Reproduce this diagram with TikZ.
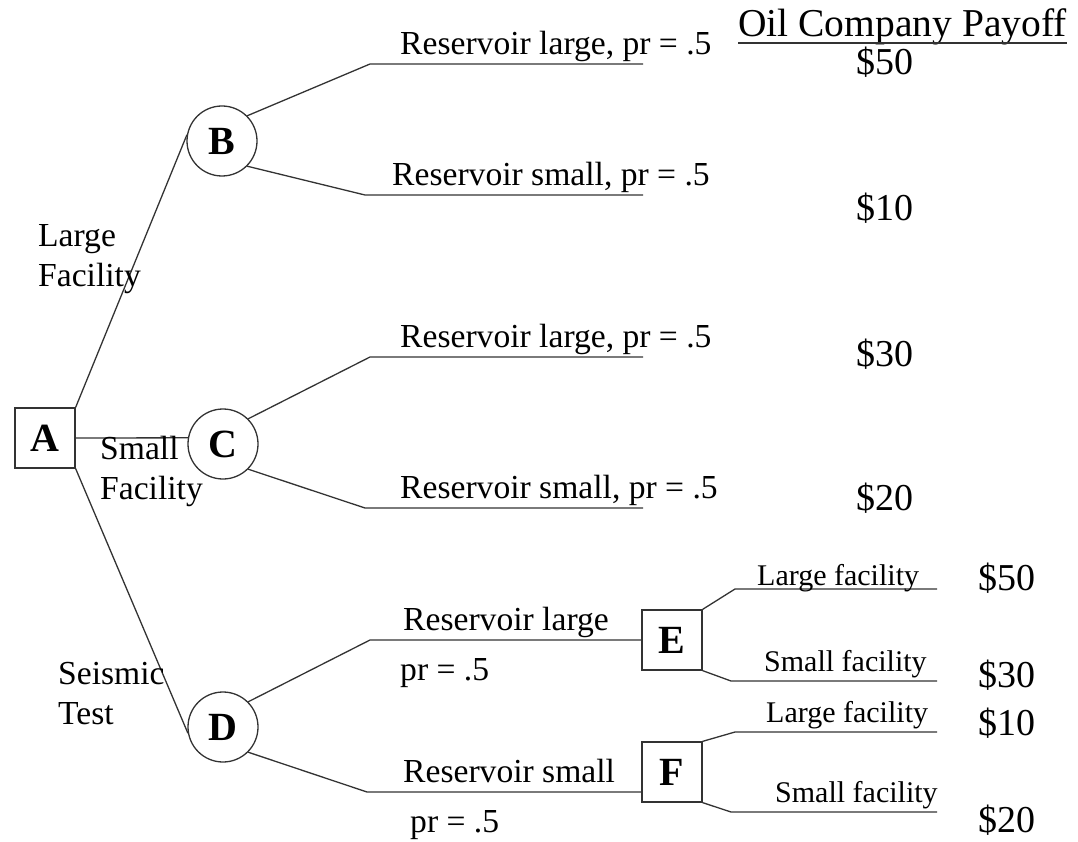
\documentclass[tikz,border=0pt]{standalone}
\usepackage{fontspec}
\setmainfont{Liberation Serif}
\usetikzlibrary{positioning}

\newcommand{\nodefont}{\fontsize{40}{46}\selectfont\bfseries}
\newcommand{\lblfont}{\fontsize{33.6}{40}\selectfont}
\newcommand{\subfont}{\fontsize{30}{35}\selectfont}
\newcommand{\payfont}{\fontsize{38}{44}\selectfont}

\begin{document}
\begin{tikzpicture}[
  x=1pt, y=-1pt,
  % Decision nodes (squares)
  decision/.style={rectangle, draw=black!80, line width=1.3pt,
                   minimum size=60pt, inner sep=0pt, font=\nodefont},
  % Chance nodes (circles)
  chance/.style={circle, draw=black!80, line width=1.3pt,
                 minimum size=70pt, inner sep=0pt, font=\nodefont},
  branch/.style={draw=black!80, line width=1.3pt},
  lbl/.style={anchor=base west, inner sep=0pt, font=\lblfont, align=left},
  sublbl/.style={anchor=base west, inner sep=0pt, font=\subfont},
  pay/.style={anchor=base, inner sep=0pt, font=\payfont},
  payr/.style={anchor=base west, inner sep=0pt, font=\payfont}
]
\useasboundingbox (0,0) rectangle (1078,842);

%% ── Decision and chance nodes ───────────────────────────────
\node[decision] (A) at (45,438)  {A};
\node[chance]   (B) at (222,141) {B};
\node[chance]   (C) at (223,444) {C};
\node[chance]   (D) at (223,727) {D};
\node[decision] (E) at (672,640) {E};
\node[decision] (F) at (672,772) {F};

%% ── Bend points of the branches ─────────────────────────────
\coordinate (b1) at (370,64);  \coordinate (b1e) at (643,64);
\coordinate (b2) at (365,195); \coordinate (b2e) at (643,195);
\coordinate (c1) at (370,357); \coordinate (c1e) at (643,357);
\coordinate (c2) at (365,508); \coordinate (c2e) at (643,508);
\coordinate (d1) at (370,640);
\coordinate (d2) at (367,792);
\coordinate (e1) at (735,589); \coordinate (e1e) at (937,589);
\coordinate (e2) at (731,681); \coordinate (e2e) at (937,681);
\coordinate (f1) at (735,732); \coordinate (f1e) at (937,732);
\coordinate (f2) at (731,812); \coordinate (f2e) at (937,812);

%% ── Branches from A ─────────────────────────────────────────
\draw[branch] (A.north east) -- (B.170);
\draw[branch] (A.east)       -- (C.170);
\draw[branch] (A.south east) -- (D.190);

%% ── Chance branches ─────────────────────────────────────────
\draw[branch] (B.45)  -- (b1) -- (b1e);
\draw[branch] (B.-45) -- (b2) -- (b2e);
\draw[branch] (C.45)  -- (c1) -- (c1e);
\draw[branch] (C.-45) -- (c2) -- (c2e);
\draw[branch] (D.45)  -- (d1) -- (E.west);
\draw[branch] (D.-45) -- (d2) -- (F.west |- d2);

%% ── Second decision branches ────────────────────────────────
\draw[branch] (E.north east) -- (e1) -- (e1e);
\draw[branch] (E.south east) -- (e2) -- (e2e);
\draw[branch] (F.north east) -- (f1) -- (f1e);
\draw[branch] (F.south east) -- (f2) -- (f2e);

%% ── Branch labels ───────────────────────────────────────────
% two-line labels: base sits ~42pt above the first line here
\node[lbl] (fac1) at (38,287)  {Large\\Facility};
\node[lbl] (fac2) at (100,499) {Small\\Facility};
\node[lbl] (fac3) at (58,724)  {Seismic\\Test};

\node[lbl] (rB1) at (400,55)  {Reservoir large, pr = .5};
\node[lbl] (rB2) at (392,186) {Reservoir small, pr = .5};
\node[lbl] (rC1) at (400,347) {Reservoir large, pr = .5};
\node[lbl] (rC2) at (400,498) {Reservoir small, pr = .5};
\node[lbl] (rD1) at (403,630) {Reservoir large};
\node[lbl] (pD1) at (400,680) {pr = .5};
\node[lbl] (rD2) at (403,782) {Reservoir small};
\node[lbl] (pD2) at (410,832) {pr = .5};

\node[sublbl] (sE1) at (757,585) {Large facility};
\node[sublbl] (sE2) at (764,671) {Small facility};
\node[sublbl] (sF1) at (766,722) {Large facility};
\node[sublbl] (sF2) at (775,802) {Small facility};

%% ── Payoffs ─────────────────────────────────────────────────
\node[anchor=base west, inner sep=0pt, font=\fontsize{39.5}{45}\selectfont]
      (head) at (738,37) {Oil Company Payoff};
\draw[branch] ([yshift=-6pt]head.base west) -- ([yshift=-6pt]head.base east);

\node[pay] (p1) at (885,75)  {\$50};
\node[pay] (p2) at (885,221) {\$10};
\node[pay] (p3) at (885,366) {\$30};
\node[pay] (p4) at (885,510) {\$20};

\node[payr] (p5) at (978,590) {\$50};
\node[payr] (p6) at (978,687) {\$30};
\node[payr] (p7) at (978,735) {\$10};
\node[payr] (p8) at (978,832) {\$20};

\end{tikzpicture}
\end{document}
